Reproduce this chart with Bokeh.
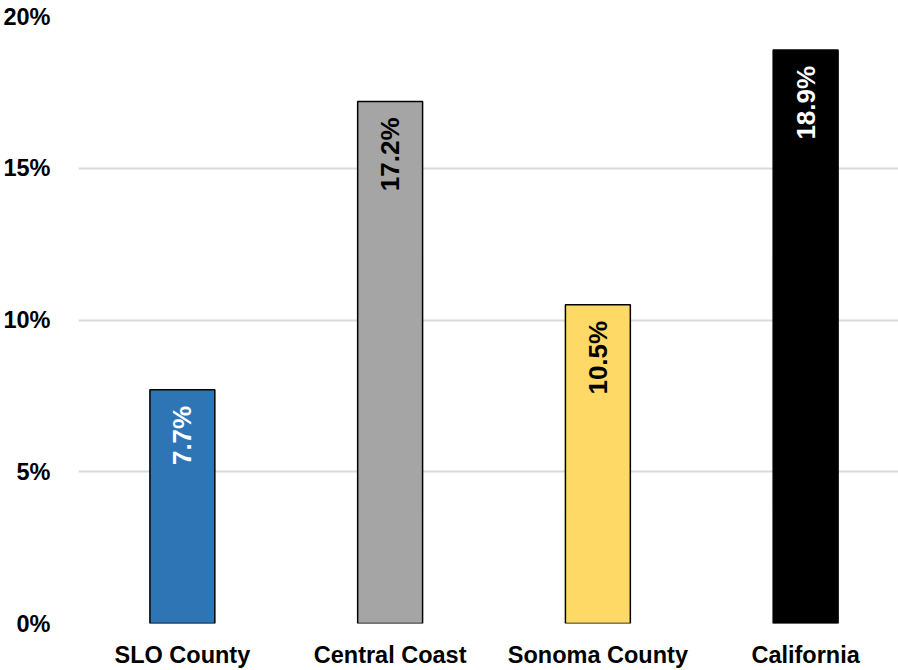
from bokeh.plotting import figure
from bokeh.models import ColumnDataSource, Range1d, FixedTicker, NumeralTickFormatter
from bokeh.core.properties import value
from bokeh.embed import file_html
from bokeh.resources import INLINE
import math

# Share of population, by region (percent)
regions = ["SLO County", "Central Coast", "Sonoma County", "California"]
shares = [7.7, 17.2, 10.5, 18.9]
bar_colors = ["#2E75B6", "#A5A5A5", "#FFD966", "#000000"]
label_colors = ["#FFFFFF", "#000000", "#000000", "#FFFFFF"]
y_ticks = [0, 5, 10, 15, 20]

FONT = "Liberation Sans"

xs = [i + 0.5 for i in range(len(regions))]
source = ColumnDataSource(dict(
    x=xs,
    top=shares,
    color=bar_colors,
    label=[f"{v:.1f}%" for v in shares],
    label_color=label_colors,
))

p = figure(
    width=898, height=670,
    x_range=Range1d(0, 3.947), y_range=Range1d(0, 20),
    output_backend="svg", toolbar_location=None,
    min_border_left=77, min_border_right=0,
    min_border_top=16, min_border_bottom=46,
)
p.outline_line_color = None
p.background_fill_color = "white"
p.border_fill_color = "white"

p.vbar(x="x", top="top", bottom=0, width=65 / 208, source=source,
       fill_color="color", line_color="#000000", line_width=1.5)

p.text(x="x", y="top", text="label", source=source,
       angle=math.pi / 2, text_align="right", text_baseline="middle",
       y_offset=16, text_color="label_color",
       text_font=value(FONT), text_font_style="bold", text_font_size="26px")

# x axis: category names under each bar
p.xaxis.ticker = FixedTicker(ticks=xs)
p.xaxis.major_label_overrides = {x: name for x, name in zip(xs, regions)}
p.xaxis.axis_line_color = None
p.xaxis.major_tick_line_color = None
p.xaxis.minor_tick_line_color = None
p.xaxis.major_label_text_font = FONT
p.xaxis.major_label_text_font_style = "bold"
p.xaxis.major_label_text_font_size = "23.5px"
p.xaxis.major_label_text_color = "#000000"
p.xaxis.major_label_standoff = 12

# y axis: percentages
p.yaxis.ticker = FixedTicker(ticks=y_ticks)
p.yaxis.formatter = NumeralTickFormatter(format="0")
p.yaxis.major_label_overrides = {t: f"{t}%" for t in y_ticks}
p.yaxis.axis_line_color = None
p.yaxis.major_tick_line_color = None
p.yaxis.minor_tick_line_color = None
p.yaxis.major_label_text_font = FONT
p.yaxis.major_label_text_font_style = "bold"
p.yaxis.major_label_text_font_size = "23.5px"
p.yaxis.major_label_text_color = "#000000"
p.yaxis.major_label_standoff = 22

p.xgrid.grid_line_color = None
p.ygrid.ticker = FixedTicker(ticks=y_ticks)
p.ygrid.grid_line_color = "#D9D9D9"
p.ygrid.grid_line_width = 2

open("out.html", "w").write(file_html(p, INLINE))
